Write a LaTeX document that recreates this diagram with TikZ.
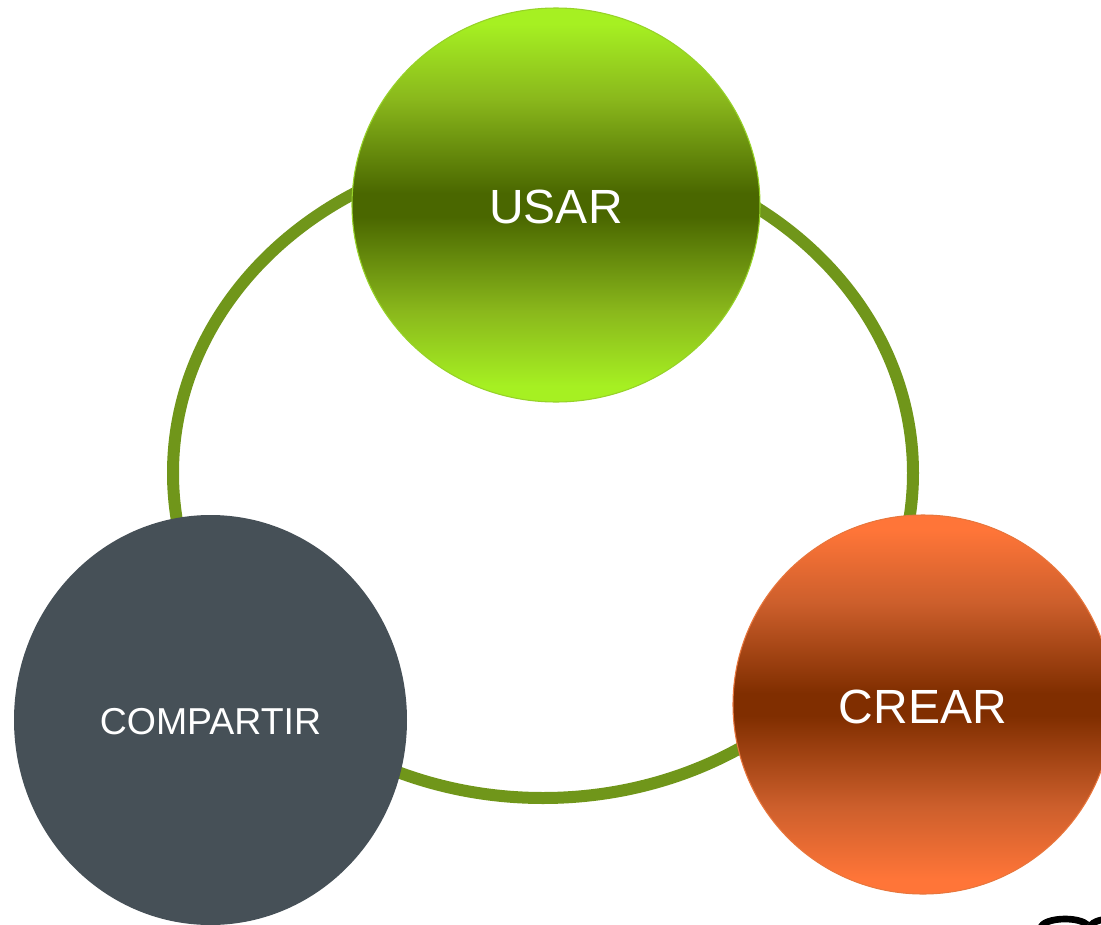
\documentclass[tikz,border=0pt]{standalone}
\usepackage{fontspec}
\setmainfont{Liberation Sans}
\usetikzlibrary{shapes.geometric}
\definecolor{aroverde}{RGB}{112,150,26}
\definecolor{usarclaro}{RGB}{166,240,34}
\definecolor{usarmedio}{RGB}{138,184,28}
\definecolor{usaroscuro}{RGB}{74,103,0}
\definecolor{usarborde}{RGB}{150,210,40}
\definecolor{crearclaro}{RGB}{255,117,56}
\definecolor{crearmedio}{RGB}{205,95,44}
\definecolor{crearoscuro}{RGB}{128,46,0}
\definecolor{crearborde}{RGB}{232,118,60}
\definecolor{compartirgris}{RGB}{70,80,87}
\pgfdeclareverticalshading{usarsombra}{100bp}{color(0bp)=(usarclaro); color(27bp)=(usarclaro); color(36.5bp)=(usarmedio); color(48.5bp)=(usaroscuro); color(51.5bp)=(usaroscuro); color(63.5bp)=(usarmedio); color(73bp)=(usarclaro); color(100bp)=(usarclaro)}
\pgfdeclareverticalshading{crearsombra}{100bp}{color(0bp)=(crearclaro); color(27bp)=(crearclaro); color(36.5bp)=(crearmedio); color(48.5bp)=(crearoscuro); color(51.5bp)=(crearoscuro); color(63.5bp)=(crearmedio); color(73bp)=(crearclaro); color(100bp)=(crearclaro)}
\tikzset{
  circulo/.style={ellipse,inner sep=0pt,text=white,text depth=0pt},
  usarfill/.style={shading=usarsombra,draw=usarborde,line width=.8pt},
  crearfill/.style={shading=crearsombra,draw=crearborde,line width=.8pt},
}
\begin{document}
\begin{tikzpicture}[x=.75pt,y=-.75pt]
\clip (0,0) rectangle (1101,925);
\node [ellipse,inner sep=0pt,draw=aroverde,line width=9pt,minimum width=555pt,minimum height=487.5pt] (aro) at (543,473) {};
\node [circulo,usarfill,text height=28pt,minimum width=306pt,minimum height=295.5pt] (usar) at (556,205)
{\fontsize{36pt}{40pt}\selectfont USAR};
\node [circulo,fill=compartirgris,text height=21pt,minimum width=294.75pt,minimum height=307.5pt] (compartir) at (210.5,720)
{\fontsize{28.1pt}{32pt}\selectfont COMPARTIR};
\node [circulo,crearfill,text height=28pt,minimum width=285pt,minimum height=284.25pt] (crear) at (923,704.5)
{\fontsize{36pt}{40pt}\selectfont CREAR};
% trazo cortado abajo
\draw [line width=5pt] (1041,928) arc (180:340:24 and 9);
\draw [line width=5pt] (1090,928) arc (180:270:20 and 9);
\end{tikzpicture}
\end{document}
